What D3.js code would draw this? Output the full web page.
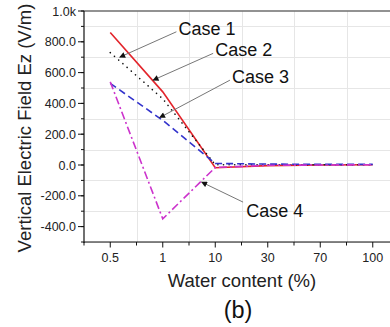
<!DOCTYPE html>
<html>
<head>
<meta charset="utf-8">
<script src="https://cdn.jsdelivr.net/npm/d3@7"></script>
<style>
  html, body { margin: 0; padding: 0; background: #fff; }
  svg { display: block; }
  text { font-family: Arial, "Liberation Sans", Helvetica, sans-serif; }
</style>
</head>
<body>
<svg id="chart" width="390" height="327"></svg>
<script>
// Water content categories (%) on an evenly spaced axis
const waterContent = ["0.5", "1", "10", "30", "70", "100"];

// Vertical electric field Ez (V/m) for each case
const case1 = [860, 475, -18, -4, 0, 2];
const case2 = [730, 430, 2, 2, 2, 2];
const case3 = [530, 290, 10, 6, 4, 4];
const case4 = [540, -350, -16, -2, 0, 2];

// Y axis tick values and their labels
const yTickValues = [1000, 800, 600, 400, 200, 0, -200, -400];
const yTickLabels = ["1.0k", "800.0", "600.0", "400.0", "200.0", "0.0", "-200.0", "-400.0"];

// Callouts: arrow tail, arrow tip and text baseline start, in (category index, Ez) space
const calloutNames = ["Case 1", "Case 2", "Case 3", "Case 4"];
const calloutFrom = [[1.26, 865], [1.96, 725], [2.28, 551], [2.53, -241]];
const calloutTip = [[0.18, 700], [0.815, 551], [0.94, 308], [1.74, -111]];
const calloutText = [[1.3, 845], [2.0, 705], [2.32, 535], [2.59, -340]];

const svg = d3.select("#chart");
const plot = { left: 84, right: 399, top: 11, bottom: 242 };

const x = d3.scaleLinear().domain([-0.5, waterContent.length - 0.5]).range([plot.left, plot.right]);
const y = d3.scaleLinear().domain([-500, 1000]).range([plot.bottom, plot.top]);

const minorY = d3.range(-500, 1001, 100);
const gridY = minorY.filter(v => Math.abs(v) % 200 === 100);
const minorX = d3.range(-0.5, waterContent.length, 1);

// Light grid at the minor tick positions
const grid = svg.append("g").attr("stroke", "#e6e6e6").attr("stroke-width", 1);
grid.selectAll("line.gy").data(gridY).join("line")
  .attr("x1", plot.left).attr("x2", plot.right)
  .attr("y1", d => Math.round(y(d)) + 0.5).attr("y2", d => Math.round(y(d)) + 0.5);
grid.selectAll("line.gx").data(minorX.slice(1)).join("line")
  .attr("y1", plot.top).attr("y2", plot.bottom)
  .attr("x1", d => Math.round(x(d)) + 0.5).attr("x2", d => Math.round(x(d)) + 0.5);

// Top frame
svg.append("line")
  .attr("x1", plot.left).attr("x2", plot.right)
  .attr("y1", plot.top).attr("y2", plot.top)
  .attr("stroke", "#6e6e6e").attr("stroke-width", 1.6);

// Y axis
const yAxis = svg.append("g").attr("transform", `translate(${plot.left},0)`);
yAxis.append("line").attr("y1", plot.top).attr("y2", plot.bottom + 1)
  .attr("stroke", "#111").attr("stroke-width", 1.2);
yAxis.selectAll("line.minor").data(minorY).join("line")
  .attr("class", "minor")
  .attr("x1", -3).attr("x2", 0)
  .attr("y1", d => y(d)).attr("y2", d => y(d))
  .attr("stroke", "#111").attr("stroke-width", 1);
yAxis.selectAll("line.major").data(yTickValues).join("line")
  .attr("class", "major")
  .attr("x1", -6).attr("x2", 0)
  .attr("y1", d => y(d)).attr("y2", d => y(d))
  .attr("stroke", "#111").attr("stroke-width", 1);
yAxis.selectAll("text").data(yTickValues).join("text")
  .attr("x", -8).attr("y", d => y(d)).attr("dy", "0.36em")
  .attr("text-anchor", "end").attr("font-size", 12.5).attr("fill", "#222")
  .text((d, i) => yTickLabels[i]);

// X axis
const xAxis = svg.append("g").attr("transform", `translate(0,${plot.bottom})`);
xAxis.append("line").attr("x1", plot.left).attr("x2", plot.right)
  .attr("stroke", "#111").attr("stroke-width", 1.2);
xAxis.selectAll("line.minor").data(minorX).join("line")
  .attr("class", "minor")
  .attr("x1", d => x(d)).attr("x2", d => x(d)).attr("y1", 0).attr("y2", 3.5)
  .attr("stroke", "#111").attr("stroke-width", 1);
xAxis.selectAll("line.major").data(waterContent).join("line")
  .attr("class", "major")
  .attr("x1", (d, i) => x(i)).attr("x2", (d, i) => x(i)).attr("y1", 0).attr("y2", 5.5)
  .attr("stroke", "#111").attr("stroke-width", 1);
xAxis.selectAll("text").data(waterContent).join("text")
  .attr("x", (d, i) => x(i)).attr("y", 20)
  .attr("text-anchor", "middle").attr("font-size", 12.5).attr("fill", "#222")
  .text(d => d);

// Axis titles
svg.append("text")
  .attr("transform", `translate(31,128) rotate(-90)`)
  .attr("text-anchor", "middle").attr("font-size", 18.5).attr("fill", "#222")
  .text("Vertical Electric Field Ez (V/m)");
svg.append("text")
  .attr("x", 242).attr("y", 287)
  .attr("text-anchor", "middle").attr("font-size", 18.5).attr("fill", "#222")
  .text("Water content (%)");
svg.append("text")
  .attr("x", 238).attr("y", 318)
  .attr("text-anchor", "middle").attr("font-size", 23.5)
  .attr("font-family", "'Liberation Serif', 'Times New Roman', serif").attr("fill", "#111")
  .text("(b)");

// Series lines
const line = d3.line().x((d, i) => x(i)).y(d => y(d));
const series = [
  { values: case1, color: "#e3242b", width: 1.6, dash: null, cap: "butt" },
  { values: case2, color: "#111111", width: 1.6, dash: "0.1 5.5", cap: "round" },
  { values: case3, color: "#3333cc", width: 1.6, dash: "7 4", cap: "butt" },
  { values: case4, color: "#cc33cc", width: 1.6, dash: "8 3 2 3", cap: "butt" }
];
const plotArea = svg.append("g");
plotArea.selectAll("path.series").data(series).join("path")
  .attr("class", "series")
  .attr("d", d => line(d.values))
  .attr("fill", "none")
  .attr("stroke", d => d.color)
  .attr("stroke-width", d => d.width)
  .attr("stroke-linecap", d => d.cap)
  .attr("stroke-dasharray", d => d.dash);

// Callouts with arrows
svg.append("defs").append("marker")
  .attr("id", "arrow").attr("viewBox", "0 0 10 10")
  .attr("refX", 9).attr("refY", 5)
  .attr("markerWidth", 7).attr("markerHeight", 6)
  .attr("markerUnits", "userSpaceOnUse")
  .attr("orient", "auto")
  .append("path").attr("d", "M0,0 L10,5 L0,10 Z").attr("fill", "#111");

const callouts = svg.append("g");
calloutNames.forEach((name, i) => {
  const [fx, fy] = calloutFrom[i];
  const [tx, ty] = calloutTip[i];
  const [lx, ly] = calloutText[i];
  callouts.append("line")
    .attr("x1", x(fx)).attr("y1", y(fy))
    .attr("x2", x(tx)).attr("y2", y(ty))
    .attr("stroke", "#777").attr("stroke-width", 1)
    .attr("marker-end", "url(#arrow)");
  callouts.append("text")
    .attr("x", x(lx)).attr("y", y(ly))
    .attr("font-size", 18).attr("fill", "#111")
    .text(name);
});
</script>
</body>
</html>
